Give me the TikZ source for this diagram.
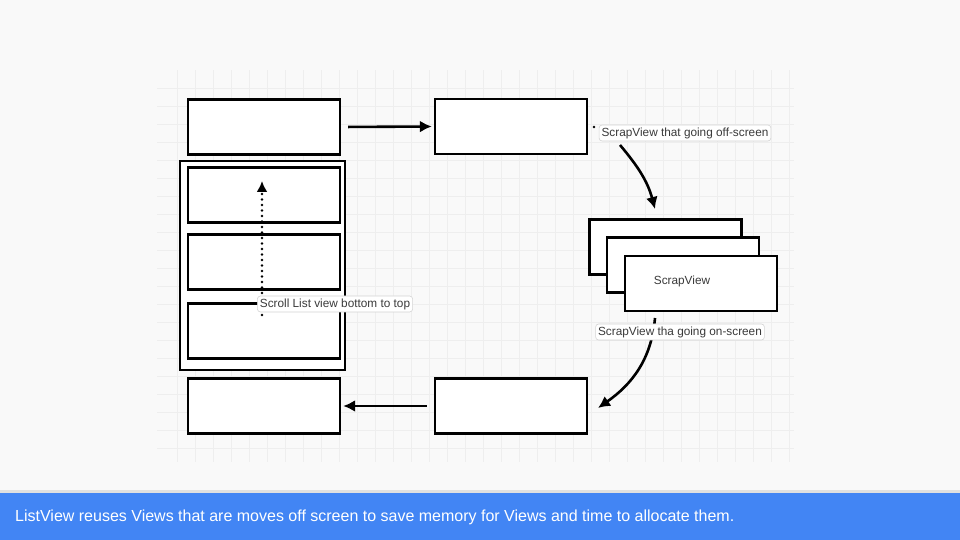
\documentclass[tikz,border=0pt]{standalone}
\usepackage{fontspec}
\setmainfont{Liberation Sans}
\usepackage{tikz}
\definecolor{bannerblue}{HTML}{4285F4}
\definecolor{paper}{HTML}{F9F9F9}
\definecolor{gridln}{HTML}{EEEEEE}
\definecolor{tagline}{HTML}{D4D4D4}
\definecolor{tagtext}{HTML}{3A3A3A}
\usetikzlibrary{arrows,arrows.meta,positioning}
\tikzstyle{line} = [draw, -{Latex[length=12pt,width=12pt]}, line width=2.6pt]
\tikzstyle{view} = [draw, line width=2.4pt, fill=white, minimum width=152pt, minimum height=55pt, inner sep=0pt]
\tikzstyle{tag} = [draw=tagline, fill=white, rounded corners=3pt, text=tagtext, font=\fontsize{11.8}{13}\selectfont, inner sep=2.5pt, line width=0.6pt]
\newcommand{\gridtop}{470}
\newcommand{\gridbot}{78}

\begin{document}
\begin{tikzpicture}[x=1pt,y=1pt]
	\useasboundingbox (0,0) rectangle (960,540);
	% The paper:
	\fill[paper] (0,0) rectangle (960,540);
	\foreach \gx in {177,195,...,789}
		\draw[gridln, line width=0.8pt] (\gx,\gridbot) -- (\gx,\gridtop);
	\foreach \gy in {92,110,...,452}
		\draw[gridln, line width=0.8pt] (157,\gy) -- (794,\gy);

	% Views on screen:
	\node[view] (topview) at (264,413) {};
	\node[draw, line width=2.4pt, fill=white, minimum width=165pt, minimum height=209pt] (listframe) at (262.5,274.5) {};
	\node[view] (rowa) at (264,345) {};
	\node[view] (rowb) at (264,278) {};
	\node[view] (rowc) at (264,209) {};
	\node[view] (recycled) at (264,134) {};
	% Views off screen:
	\node[view] (offview) at (511,413.5) {};
	\node[view] (onview) at (511,134) {};
	% Scrap heap:
	\node[view] (scrapa) at (665.5,293) {};
	\node[view] (scrapb) at (683,275) {};
	\node[view] (scrapc) at (701,256.5) {};
	\node[text=tagtext, font=\fontsize{11.8}{13}\selectfont] (scrapname) at (682,259) {ScrapView};

	% Flows:
	\draw[line, shorten <=7pt, shorten >=2pt] (topview.east) -- (offview.west);
	\draw[line, shorten <=7pt, shorten >=2pt] (onview.west) -- (recycled.east);
	\coordinate (offstart) at (620,395);
	\coordinate (offend) at (655,331);
	\draw[line] (offstart) to[out=-50,in=105] (offend);
	\coordinate (onstart) at (655,222);
	\coordinate (onend) at (598,132);
	\draw[line] (onstart) to[out=-95,in=35] (onend);
	\coordinate (scrollstart) at (262,225);
	\coordinate (scrollend) at (262,359);
	\draw[line, line width=2.8pt, line cap=round, dash pattern=on 0pt off 5.5pt, -{Latex[length=11pt,width=11pt]}] (scrollstart) -- (scrollend);

	% Labels:
	\fill[black] (594,413) circle (1.4);
	\node[tag] (offtag) at (685,407) {ScrapView that going off-screen};
	\node[tag] (ontag) at (680,208) {ScrapView tha going on-screen};
	\node[tag] (scrolltag) at (335,236) {Scroll List view bottom to top};

	% Caption bar:
	\fill[black!12] (0,47) rectangle (960,49.5);
	\fill[bannerblue] (0,0) rectangle (960,47);
	\node[anchor=west, text=white, font=\fontsize{16}{19}\selectfont, inner sep=0pt] (caption) at (15,23) {ListView reuses Views that are moves off screen to save memory for Views and time to allocate them.};
\end{tikzpicture}
\end{document}
